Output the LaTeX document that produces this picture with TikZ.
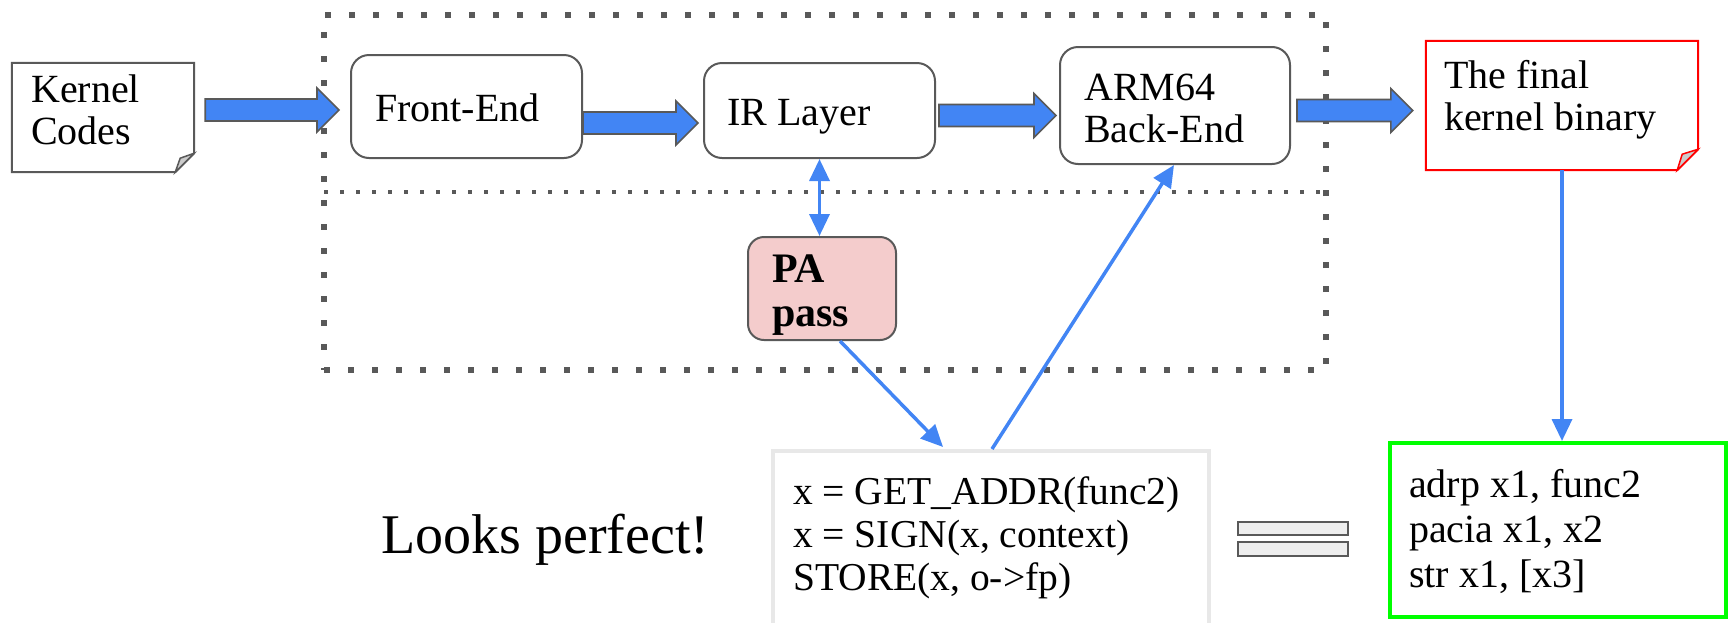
\documentclass[tikz,border=0pt]{standalone}
\usepackage{fontspec}
\setmainfont{Liberation Serif}
\usetikzlibrary{arrows.meta,calc}

\definecolor{gblue}{HTML}{4285F4}
\definecolor{edge}{HTML}{595959}
\definecolor{passfill}{HTML}{F4CCCC}
\definecolor{foldgray}{HTML}{CCCCCC}
\definecolor{codeedge}{HTML}{E8E8E8}
\definecolor{barfill}{HTML}{EEEEEE}
\definecolor{okgreen}{HTML}{00FF00}
\definecolor{notered}{HTML}{FF0000}

\tikzset{
  stage/.style={draw=edge, line width=2pt, rounded corners=18pt, inner sep=0pt},
  plain/.style={inner sep=0pt},
  % multi-line labels are placed by the baseline of their last line
  txt/.style={inner sep=0pt, anchor=base west, align=left,
    font=\fontsize{40}{42}\selectfont},
  codetxt/.style={inner sep=0pt, anchor=base west, align=left,
    font=\fontsize{39.5}{43}\selectfont},
  link/.style={draw=gblue, line width=3.5pt,
    >={Triangle[length=22pt,width=20pt]}},
  outerdots/.style={draw=edge, line width=6pt, dash pattern=on 6pt off 18pt},
  innerdots/.style={draw=edge, line width=4pt, dash pattern=on 4pt off 12pt},
  % wide block arrow from the start point to the x of the target
  blockarrow/.style={draw=edge, fill=gblue, line width=1.6pt, line join=miter,
    to path={let \p1=(\tikztostart), \p2=(\tikztotarget) in
      (\x1,\y1+11pt) -- (\x2-22pt,\y1+11pt) -- (\x2-22pt,\y1+22pt) -- (\x2,\y1)
      -- (\x2-22pt,\y1-22pt) -- (\x2-22pt,\y1-11pt) -- (\x1,\y1-11pt) -- cycle}},
}

\begin{document}
\begin{tikzpicture}[x=1pt,y=-1pt]
\useasboundingbox (0,0) rectangle (1729,622);
\clip (0,0) rectangle (1729,622);

% compiler frame with its divider
\node[outerdots, minimum width=1002pt, minimum height=355pt, inner sep=0pt]
  (frame) at (825,192.5) {};
\draw[innerdots] (324,192) -- (1326,192);

% source note with folded corner
\node[plain, minimum width=182pt, minimum height=109pt] (kc) at (103,117.5) {};
\draw[draw=edge, line width=2pt, line join=miter]
  (kc.north west) -- (kc.north east) -- ([yshift=19pt]kc.south east)
  -- ([xshift=-19pt]kc.south east) -- (kc.south west) -- cycle;
\draw[draw=edge, fill=foldgray, line width=1.5pt, line join=miter]
  ([yshift=19pt]kc.south east) -- ([xshift=-19pt]kc.south east)
  -- ([xshift=-14pt,yshift=14pt]kc.south east) -- cycle;
\node[txt] (kctext) at (31,144) {Kernel\\Codes};

% pipeline stages
\node[stage, minimum width=231pt, minimum height=103pt] (fe) at (466.5,106.5) {};
\node[txt] (fetext) at (375,121) {Front-End};
\node[stage, minimum width=231pt, minimum height=95pt] (ir) at (819.5,110.5) {};
\node[txt] (irtext) at (727,125) {IR Layer};
\node[stage, minimum width=230pt, minimum height=117pt] (arm) at (1175,105.5) {};
\node[txt] (armtext) at (1084,142) {ARM64\\Back-End};

% output note with folded corner
\node[plain, minimum width=272pt, minimum height=129pt] (fin) at (1562,105.5) {};
\draw[draw=notered, line width=2pt, line join=miter]
  (fin.north west) -- (fin.north east) -- ([yshift=21pt]fin.south east)
  -- ([xshift=-21pt]fin.south east) -- (fin.south west) -- cycle;
\draw[draw=notered, fill=foldgray, line width=1.5pt, line join=miter]
  ([yshift=21pt]fin.south east) -- ([xshift=-21pt]fin.south east)
  -- ([xshift=-16pt,yshift=16pt]fin.south east) -- cycle;
\node[txt] (fintext) at (1444,130) {The final\\kernel binary};

% pointer authentication pass
\node[stage, fill=passfill, rounded corners=16pt,
  minimum width=148pt, minimum height=103pt] (pa) at (822,288.5) {};
\node[inner sep=0pt, anchor=base west, align=left,
  font=\fontsize{42}{44}\selectfont\bfseries] (patext) at (772,326) {PA\\pass};

% block arrows along the pipeline
\draw[blockarrow] ([shift={(11,-7.5)}]kc.east) to ([xshift=-11pt]fe.west);
\draw[blockarrow] ([shift={(0,16.5)}]fe.east) to ([xshift=-5pt]ir.west);
\draw[blockarrow] ([shift={(3,5)}]ir.east) to ([xshift=-3pt]arm.west);
\draw[blockarrow] ([shift={(6,5)}]arm.east) to ([xshift=-13pt]fin.west);

% IR-level sequence
\node[draw=codeedge, line width=4pt, inner sep=0pt,
  minimum width=436pt, minimum height=209pt] (code) at (991,555.5) {};
\node[codetxt] (codetext) at (793,590)
  {x = GET\_ADDR(func2)\\x = SIGN(x, context)\\STORE(x, o->fp)};

% generated machine code
\node[draw=okgreen, line width=4pt, inner sep=0pt,
  minimum width=336pt, minimum height=174pt] (asm) at (1558,530) {};
\node[txt, font=\fontsize{40}{45}\selectfont] (asmtext) at (1409,587)
  {adrp x1, func2\\pacia x1, x2\\str x1, [x3]};

% equivalence sign
\node[draw=edge, fill=barfill, line width=2pt, inner sep=0pt,
  minimum width=110pt, minimum height=13pt] (eqa) at (1293,528.5) {};
\node[draw=edge, fill=barfill, line width=2pt, inner sep=0pt,
  minimum width=110pt, minimum height=14pt] (eqb) at (1293,549) {};

\node[inner sep=0pt, anchor=base west, font=\fontsize{56}{60}\selectfont]
  (verdict) at (381,553) {Looks perfect!};

% thin connectors
\draw[link, <->] (ir.south) -- (ir.south |- pa.north);
\draw[link, ->] ([xshift=18pt]pa.south) -- ([xshift=-48pt,yshift=2pt]code.north);
\draw[link, ->] ([xshift=1pt]code.north) -- ([xshift=-1pt]arm.south);
\draw[link, ->] (fin.south) -- (fin.south |- asm.north);
\end{tikzpicture}
\end{document}
